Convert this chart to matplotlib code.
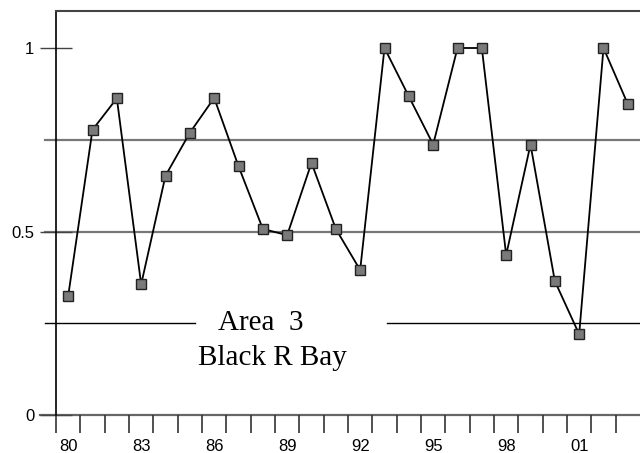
import matplotlib
matplotlib.use("Agg")
import matplotlib.pyplot as plt
import numpy as np

# yearly index values, Area 3 (Black R Bay)
years = ["80", "81", "82", "83", "84", "85", "86", "87", "88", "89", "90", "91",
         "92", "93", "94", "95", "96", "97", "98", "99", "00", "01", "02", "03"]
values = [0.324, 0.777, 0.863, 0.356, 0.652, 0.769, 0.864, 0.678, 0.507, 0.49,
          0.687, 0.507, 0.395, 1.0, 0.868, 0.737, 1.0, 1.0, 0.436, 0.737,
          0.365, 0.22, 1.0, 0.847]
label_years = ["80", "83", "86", "89", "92", "95", "98", "01"]

plt.rcParams['font.family'] = ['Liberation Sans', 'DejaVu Sans']

fig = plt.figure(figsize=(6.4, 4.53), dpi=100)
ax = fig.add_axes([56 / 640, 1 - 415 / 453, 584 / 640, 404 / 453])

x = np.arange(len(years))
ax.plot(x, values, color="black", lw=1.3, marker="s", markersize=7.5,
        markerfacecolor="#7a7a7a", markeredgecolor="#222222", markeredgewidth=1.0,
        zorder=5)

ax.set_xlim(-0.5, len(years) - 0.5)
ax.set_ylim(0, 404 / 367)

# reference lines
ax.axhline(0.75, xmin=-11 / 584, xmax=1, color="#777777", lw=1.6, clip_on=False, zorder=1)
ax.axhline(0.5, xmin=-11 / 584, xmax=1, color="#777777", lw=1.6, clip_on=False, zorder=1)
ax.axhline(0.25, xmin=-11 / 584, xmax=(195 - 56) / 584, color="black", lw=1.0, clip_on=False, zorder=1)
ax.axhline(0.25, xmin=(387 - 56) / 584, xmax=1, color="black", lw=1.0, clip_on=False, zorder=1)
ax.axhline(0, xmin=-16 / 584, xmax=1, color="#666666", lw=1.6, clip_on=False, zorder=1)

ax.text(7.9, 0.25, "Area  3", family="Liberation Serif", fontsize=21,
        ha="center", va="center")
ax.text(8.4, 0.155, "Black R Bay", family="Liberation Serif", fontsize=21,
        ha="center", va="center")

# spines
for side in ["right", "bottom"]:
    ax.spines[side].set_visible(False)
ax.spines["top"].set_color("#444444")
ax.spines["top"].set_linewidth(1.5)
ax.spines["left"].set_color("black")
ax.spines["left"].set_linewidth(1.2)

# y ticks
ax.set_yticks([0, 0.5, 1])
ax.set_yticklabels(["0", "0.5", "1"], fontsize=12)
ax.tick_params(axis="y", direction="inout", length=23, width=1.0, color="#444444", pad=4)

# x ticks: boundaries as major ticks, year labels at centers as minor ticks
ax.set_xticks(np.arange(-0.5, len(years) - 0.5, 1))
ax.set_xticklabels([])
ax.tick_params(axis="x", which="major", direction="out", length=13, width=1.2, color="#333333")
ax.set_xticks([years.index(y) for y in label_years], minor=True)
ax.set_xticklabels(label_years, minor=True, fontsize=12)
ax.tick_params(axis="x", which="minor", length=0, pad=17)

fig.savefig("out.png", dpi=100)
